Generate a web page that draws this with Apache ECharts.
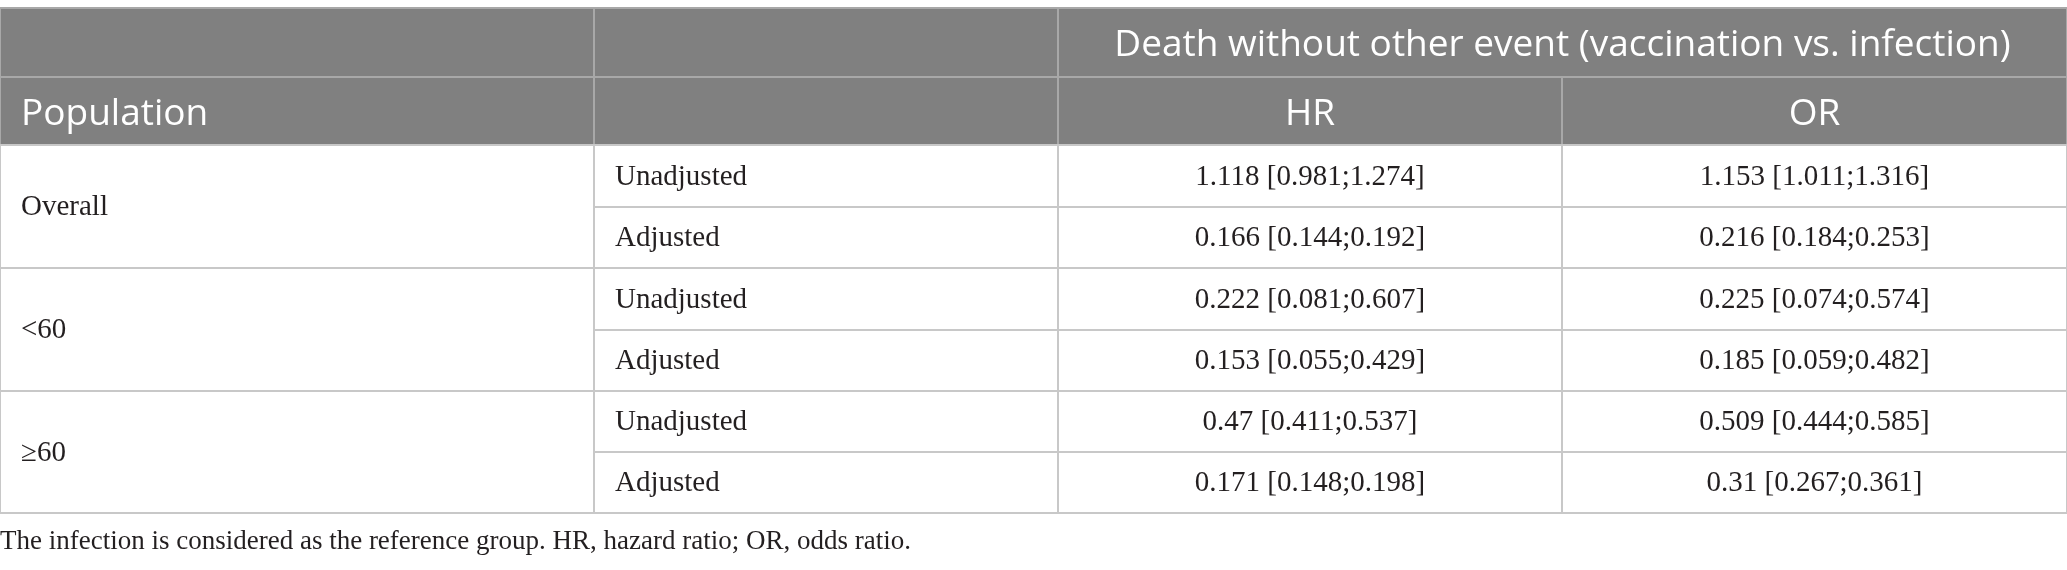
<!DOCTYPE html>
<html>
<head>
<meta charset="utf-8">
<script src="https://cdn.jsdelivr.net/npm/echarts@6/dist/echarts.min.js"></script>
<style>
html,body{margin:0;padding:0;background:#fff;}
#chart{width:2067px;height:570px;}
</style>
</head>
<body>
<div id="chart"></div>
<script>
// ---- data ----
var headerTop = 'Death without other event (vaccination vs. infection)';
var headerCols = ['Population', '', 'HR', 'OR'];
var populations = ['Overall', '<60', '\u226560'];
var adjustments = ['Unadjusted', 'Adjusted'];
var hrValues = [
  ['1.118 [0.981;1.274]', '0.166 [0.144;0.192]'],
  ['0.222 [0.081;0.607]', '0.153 [0.055;0.429]'],
  ['0.47 [0.411;0.537]', '0.171 [0.148;0.198]']
];
var orValues = [
  ['1.153 [1.011;1.316]', '0.216 [0.184;0.253]'],
  ['0.225 [0.074;0.574]', '0.185 [0.059;0.482]'],
  ['0.509 [0.444;0.585]', '0.31 [0.267;0.361]']
];
var footnote = 'The infection is considered as the reference group. HR, hazard ratio; OR, odds ratio.';

// ---- layout (axis units) ----
var colEdges = [0, 594, 1058, 1562, 2067];
var rowEdges = [0, 69, 137, 199, 260, 322, 383, 444, 505];

var cells = [];
function addCell(c0, c1, r0, r1, text, kind, align) {
  cells.push({ value: [colEdges[c0], colEdges[c1], rowEdges[r0], rowEdges[r1]], text: text, kind: kind, align: align });
}
// header row 0
addCell(0, 1, 0, 1, '', 'head', 'left');
addCell(1, 2, 0, 1, '', 'head', 'left');
addCell(2, 4, 0, 1, headerTop, 'head', 'center');
// header row 1
addCell(0, 1, 1, 2, headerCols[0], 'head', 'left');
addCell(1, 2, 1, 2, headerCols[1], 'head', 'left');
addCell(2, 3, 1, 2, headerCols[2], 'head', 'center');
addCell(3, 4, 1, 2, headerCols[3], 'head', 'center');
// body
populations.forEach(function (p, g) {
  var r = 2 + g * 2;
  addCell(0, 1, r, r + 2, p, 'body', 'left');
  adjustments.forEach(function (a, k) {
    addCell(1, 2, r + k, r + k + 1, a, 'body', 'left');
    addCell(2, 3, r + k, r + k + 1, hrValues[g][k], 'body', 'center');
    addCell(3, 4, r + k, r + k + 1, orValues[g][k], 'body', 'center');
  });
});

var chart = echarts.init(document.getElementById('chart'));
chart.setOption({
  animation: false,
  backgroundColor: '#ffffff',
  title: {
    text: footnote,
    left: 0,
    top: 528,
    padding: 0,
    textStyle: { fontFamily: 'Liberation Serif', fontSize: 27, fontWeight: 'normal', color: '#231f20' }
  },
  grid: { left: 0, right: 0, top: 8, bottom: 57 },
  xAxis: { type: 'value', min: 0, max: 2067, show: false },
  yAxis: { type: 'value', min: 0, max: 505, inverse: true, show: false },
  series: [{
    type: 'custom',
    clip: false,
    data: cells,
    renderItem: function (params, api) {
      var cell = cells[params.dataIndex];
      var p0 = api.coord([api.value(0), api.value(2)]);
      var p1 = api.coord([api.value(1), api.value(3)]);
      var x = p0[0], y = p0[1], w = p1[0] - p0[0], h = p1[1] - p0[1];
      var head = cell.kind === 'head';
      var children = [{
        type: 'rect',
        shape: { x: x, y: y, width: w, height: h },
        style: { fill: head ? '#808080' : '#ffffff', stroke: head ? '#a8a8a8' : '#c8c8c8', lineWidth: 2 }
      }];
      if (cell.text) {
        children.push({
          type: 'text',
          style: {
            text: cell.text,
            x: cell.align === 'center' ? x + w / 2 : x + 21,
            y: y + h / 2 + (head ? 3 : 1),
            textAlign: cell.align,
            textVerticalAlign: 'middle',
            fill: head ? '#ffffff' : '#231f20',
            fontFamily: head ? 'Open Sans' : 'Liberation Serif',
            fontSize: head ? 37 : 29
          }
        });
      }
      return { type: 'group', children: children };
    }
  }]
});
</script>
</body>
</html>
